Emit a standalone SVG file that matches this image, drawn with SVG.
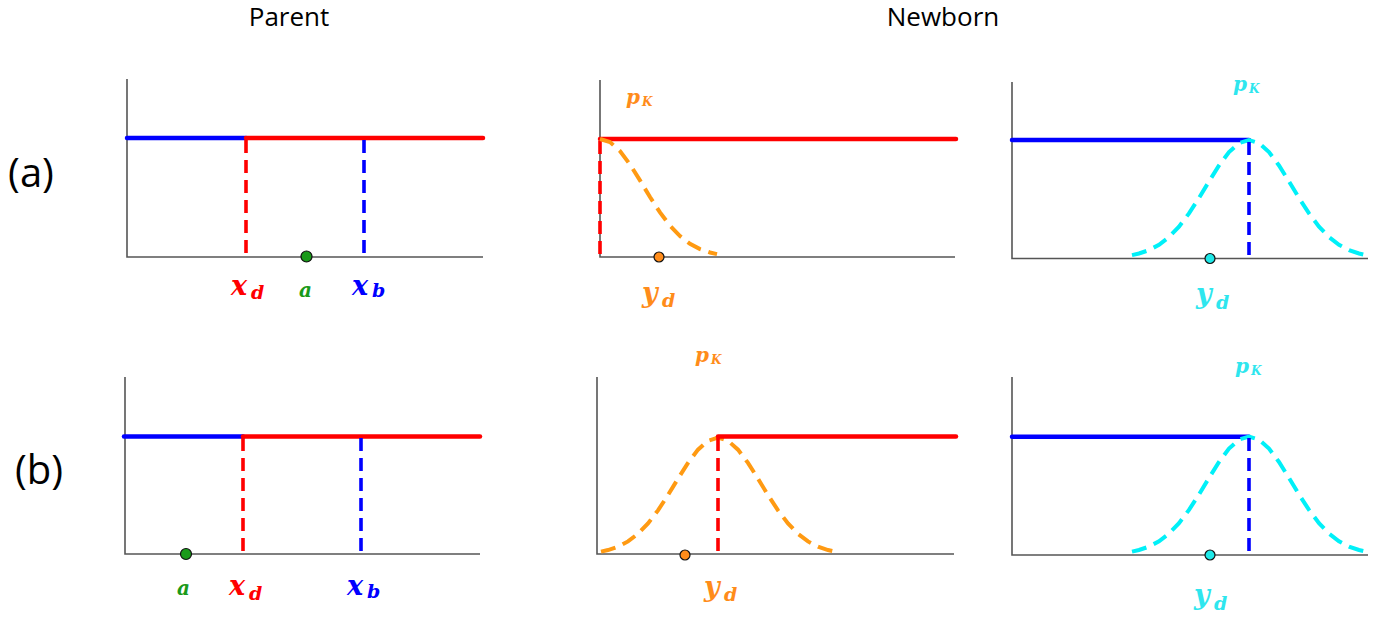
<svg xmlns="http://www.w3.org/2000/svg" xmlns:xlink="http://www.w3.org/1999/xlink" width="1377" height="617" viewBox="0 0 1377 617">
<style>
.title{font-family:"Open Sans","Liberation Sans",sans-serif;font-size:26px;fill:#000;text-anchor:middle}
.row{font-family:"Open Sans","Liberation Sans",sans-serif;font-size:40px;fill:#000;text-anchor:middle}
.m{font-family:"DejaVu Serif","Liberation Serif",serif;font-weight:bold;font-style:italic}
.axis{stroke:#555;stroke-width:1.6;fill:none}
.solid{stroke-width:4.5;fill:none;stroke-linecap:round}
.dash{stroke-width:3.6;fill:none;stroke-dasharray:13 7}
.curve{stroke-width:4;fill:none;stroke-dasharray:15 8}
.dot{stroke:#111;stroke-width:1.2}
.red{stroke:#ff0000}.blue{stroke:#0000ff}.orange{stroke:#ff9a12}.cyan{stroke:#00f0f8}
</style>
<defs>
<path id="gauss" d="M-117,-2.9 L-110,-4.5 L-100,-7.9 L-90,-13.2 L-80,-20.9 L-70,-31.4 L-60,-44.6 L-50,-60 L-40,-76.6 L-30,-92.5 L-20,-105.9 L-10,-114.9 L0,-118 L10,-114.9 L20,-105.9 L30,-92.5 L40,-76.6 L50,-60 L60,-44.6 L70,-31.4 L80,-20.9 L90,-13.2 L100,-7.9 L110,-4.5 L117,-2.9"/>
</defs>

<text class="title" x="289" y="26">Parent</text>
<text class="title" x="943" y="26">Newborn</text>
<text class="row" x="31" y="187">(a)</text>
<text class="row" x="39" y="484">(b)</text>

<g id="a-parent">
<path class="axis" d="M127,79 V257 H483"/>
<line class="solid blue" x1="127" y1="138" x2="246" y2="138" stroke-linecap="butt"/>
<line class="solid red" x1="246" y1="138" x2="483" y2="138"/>
<line class="dash red" x1="246" y1="140" x2="246" y2="257"/>
<line class="dash blue" x1="364" y1="140" x2="364" y2="257"/>
<circle class="dot" cx="306.5" cy="256.5" r="5.5" fill="#1a9a1a"/>
<text class="m" fill="#ff0000"><tspan x="231" y="295" font-size="27">x</tspan><tspan x="251" y="299" font-size="19">d</tspan></text>
<text class="m" fill="#1a9a1a" x="299" y="297" font-size="20">a</text>
<text class="m" fill="#0000ff"><tspan x="352" y="295" font-size="27">x</tspan><tspan x="372" y="297" font-size="19">b</tspan></text>
</g>

<g id="a-newborn-left">
<path class="axis" d="M600,80 V257 H955" stroke="#777"/>
<line class="solid red" x1="600" y1="139" x2="956" y2="139"/>
<line class="dash red" x1="600" y1="141" x2="600" y2="257"/>
<path class="curve orange" transform="translate(600,257)" d="M0,-118 L10,-114.9 L20,-105.9 L30,-92.5 L40,-76.6 L50,-60 L60,-44.6 L70,-31.4 L80,-20.9 L90,-13.2 L100,-7.9 L110,-4.5 L117,-2.9"/>
<circle class="dot" cx="659" cy="257" r="5" fill="#ff8c1a"/>
<text class="m" fill="#ff8c1a"><tspan x="626" y="104" font-size="20">p</tspan><tspan x="642" y="106" font-size="12">K</tspan></text>
<text class="m" fill="#ff8c1a"><tspan x="642" y="302" font-size="27">y</tspan><tspan x="662" y="307" font-size="19">d</tspan></text>
</g>

<g id="a-newborn-right">
<path class="axis" d="M1012,82 V258.5 H1368"/>
<line class="solid blue" x1="1012" y1="140" x2="1249" y2="140" stroke-width="5"/>
<use xlink:href="#gauss" href="#gauss" class="curve cyan" transform="translate(1249,258)"/>
<line class="dash blue" x1="1249" y1="142" x2="1249" y2="258"/>
<circle class="dot" cx="1210" cy="258.5" r="5" fill="#1ee8e8"/>
<text class="m" fill="#2ee6ee"><tspan x="1233" y="91" font-size="20">p</tspan><tspan x="1249" y="93" font-size="12">K</tspan></text>
<text class="m" fill="#2ee6ee"><tspan x="1196" y="303" font-size="27">y</tspan><tspan x="1216" y="309" font-size="19">d</tspan></text>
</g>

<g id="b-parent">
<path class="axis" d="M125,377 V554 H480"/>
<line class="solid blue" x1="124" y1="436.5" x2="243" y2="436.5" stroke-linecap="butt"/>
<line class="solid red" x1="243" y1="436.5" x2="480" y2="436.5"/>
<line class="dash red" x1="243" y1="438" x2="243" y2="554"/>
<line class="dash blue" x1="361" y1="438" x2="361" y2="554"/>
<circle class="dot" cx="186" cy="554" r="5.5" fill="#1a9a1a"/>
<text class="m" fill="#1a9a1a" x="177" y="595" font-size="20">a</text>
<text class="m" fill="#ff0000"><tspan x="229" y="595" font-size="27">x</tspan><tspan x="249" y="600" font-size="19">d</tspan></text>
<text class="m" fill="#0000ff"><tspan x="347" y="595" font-size="27">x</tspan><tspan x="367" y="598" font-size="19">b</tspan></text>
</g>

<g id="b-newborn-left">
<path class="axis" d="M597,377 V554 H954" stroke="#777"/>
<use xlink:href="#gauss" href="#gauss" class="curve orange" transform="translate(718,554.5) scale(1,0.99)"/>
<line class="solid red" x1="718" y1="436.5" x2="956" y2="436.5"/>
<line class="dash red" x1="718" y1="438" x2="718" y2="554"/>
<circle class="dot" cx="685" cy="555" r="5" fill="#ff8c1a"/>
<text class="m" fill="#ff8c1a"><tspan x="695" y="362" font-size="20">p</tspan><tspan x="711" y="364" font-size="12">K</tspan></text>
<text class="m" fill="#ff8c1a"><tspan x="704" y="596" font-size="27">y</tspan><tspan x="724" y="601" font-size="19">d</tspan></text>
</g>

<g id="b-newborn-right">
<path class="axis" d="M1012,377 V555 H1368"/>
<line class="solid blue" x1="1012" y1="436.7" x2="1249" y2="436.7" stroke-width="3"/>
<use xlink:href="#gauss" href="#gauss" class="curve cyan" transform="translate(1249,554.5)"/>
<line class="dash blue" x1="1249" y1="438" x2="1249" y2="555"/>
<circle class="dot" cx="1210" cy="555" r="5" fill="#1ee8e8"/>
<text class="m" fill="#2ee6ee"><tspan x="1235" y="373" font-size="20">p</tspan><tspan x="1251" y="375" font-size="12">K</tspan></text>
<text class="m" fill="#2ee6ee"><tspan x="1194" y="604" font-size="27">y</tspan><tspan x="1214" y="610" font-size="19">d</tspan></text>
</g>
</svg>
